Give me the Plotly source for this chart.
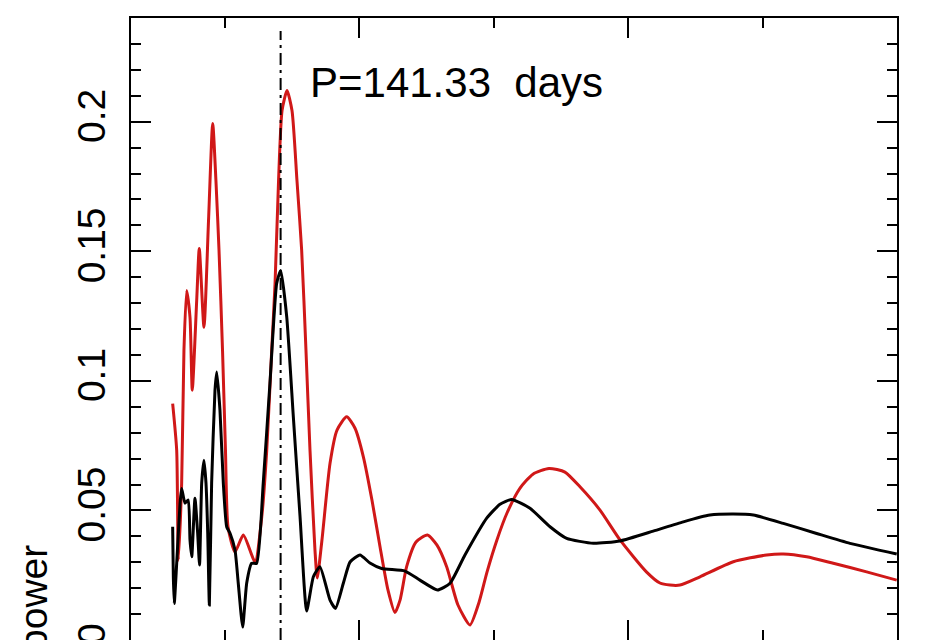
import plotly.graph_objects as go

# Period (days) and periodogram power
red_period = [61.0, 64.0, 65.2, 67.7, 69.4, 71.4, 73.9, 75.6, 78.9, 80.8, 84.3, 87.7, 90.8,
              93.2, 95.5, 98.1, 100.3, 102.2, 107.4, 113.6, 122.3, 127.3, 131.0, 134.7, 137.2,
              139.8, 142.4, 146.1, 149.8, 153.5, 157.0, 160.2, 163.2, 166.9, 168.6, 172.1,
              178.1, 183.3, 190.5, 196.7, 202.9, 209.3, 215.3, 221.2, 226.4, 230.2, 235.1,
              242.1, 250.6, 257.7, 264.9, 273.3, 282.2, 289.0, 294.9, 302.3, 309.8, 319.5,
              329.1, 341.0, 352.9, 364.1, 379.0, 393.9, 413.7, 423.6, 431.1, 438.5, 453.4,
              478.2, 503.0, 515.4, 532.8, 552.6, 577.4, 599.8]
red_power = [0.0912, 0.0732, 0.0308, 0.0605, 0.1118, 0.1349, 0.1245, 0.0964, 0.1311, 0.1511,
             0.1207, 0.1619, 0.1993, 0.1773, 0.1503, 0.1118, 0.0732, 0.0436, 0.0340, 0.0405,
             0.0302, 0.0475, 0.0732, 0.1118, 0.1376, 0.1773, 0.2043, 0.2120, 0.2043, 0.1773,
             0.1503, 0.1118, 0.0732, 0.0347, 0.0239, 0.0386, 0.0682, 0.0810, 0.0861, 0.0817,
             0.0707, 0.0540, 0.0360, 0.0193, 0.0106, 0.0154, 0.0283, 0.0378, 0.0405, 0.0366,
             0.0283, 0.0135, 0.0058, 0.0146, 0.0262, 0.0386, 0.0490, 0.0586, 0.0640, 0.0662,
             0.0648, 0.0591, 0.0501, 0.0386, 0.0262, 0.0220, 0.0212, 0.0212, 0.0244, 0.0302,
             0.0328, 0.0332, 0.0321, 0.0296, 0.0263, 0.0231]

black_period = [61.0, 61.5, 62.2, 64.0, 66.5, 67.7, 70.2, 72.6, 73.9, 75.2, 77.6, 79.6, 81.0,
                82.6, 84.3, 85.8, 87.1, 88.3, 90.0, 92.5, 93.8, 96.2, 98.7, 101.2, 103.7,
                107.4, 109.8, 113.1, 116.1, 119.8, 123.5, 128.4, 133.4, 138.4, 141.4, 145.9,
                150.8, 155.8, 160.7, 165.7, 170.6, 178.1, 182.2, 188.0, 193.0, 200.4, 207.8,
                216.5, 233.9, 245.0, 258.1, 267.4, 278.5, 294.7, 304.6, 313.3, 326.9, 341.8,
                354.2, 374.0, 393.9, 418.6, 441.0, 460.8, 478.2, 493.1, 515.4, 540.2, 565.0,
                599.8]
black_power = [0.0437, 0.0244, 0.0141, 0.0296, 0.0527, 0.0585, 0.0528, 0.0540, 0.0386, 0.0321,
               0.0547, 0.0412, 0.0289, 0.0605, 0.0694, 0.0605, 0.0412, 0.0135, 0.0605, 0.0964,
               0.1034, 0.0887, 0.0605, 0.0437, 0.0412, 0.0347, 0.0220, 0.0050, 0.0220, 0.0296,
               0.0296, 0.0605, 0.0991, 0.1376, 0.1426, 0.1246, 0.0861, 0.0475, 0.0112, 0.0244,
               0.0283, 0.0154, 0.0122, 0.0219, 0.0301, 0.0328, 0.0297, 0.0276, 0.0266, 0.0231,
               0.0193, 0.0219, 0.0328, 0.0470, 0.0524, 0.0542, 0.0508, 0.0437, 0.0392, 0.0373,
               0.0382, 0.0420, 0.0456, 0.0482, 0.0486, 0.0482, 0.0450, 0.0411, 0.0373, 0.0332]

peak_period = 141.33
peak_label = "P=141.33\u00a0 days"
label_power = 0.215
y_title = "power"

FONT = "Liberation Sans, Arial, sans-serif"

fig = go.Figure()
fig.add_trace(go.Scatter(x=red_period, y=red_power, mode="lines",
                         line=dict(color="#d01818", width=3, shape="spline", smoothing=0.6),
                         showlegend=False, hoverinfo="skip"))
fig.add_trace(go.Scatter(x=black_period, y=black_power, mode="lines",
                         line=dict(color="black", width=3, shape="spline", smoothing=0.5),
                         showlegend=False, hoverinfo="skip"))

fig.add_shape(type="line", xref="x", yref="y", x0=peak_period, x1=peak_period,
              y0=0, y1=0.235, line=dict(color="black", width=2, dash="12px,5px,3px,5px"))

fig.add_annotation(x=0.231, xref="paper", y=label_power, yref="y", text=peak_label,
                   showarrow=False, xanchor="left", yanchor="middle",
                   font=dict(family=FONT, size=42, color="black"))

fig.add_annotation(x=-0.128, xref="paper", y=0.0675, yref="paper", text=y_title,
                   textangle=-90, showarrow=False, xanchor="center", yanchor="middle",
                   font=dict(family=FONT, size=39, color="black"))

axis_common = dict(showline=True, linecolor="black", linewidth=2, mirror="allticks",
                   ticks="inside", tickcolor="black", tickwidth=2, showgrid=False,
                   zeroline=False, automargin=False)

fig.update_xaxes(range=[30, 600], dtick=200, tick0=0, ticklen=20, showticklabels=False,
                 minor=dict(dtick=100, tick0=0, ticklen=10, ticks="inside",
                            tickcolor="black", tickwidth=2, showgrid=False),
                 **axis_common)
fig.update_yaxes(range=[0, 0.24], dtick=0.05, tick0=0, ticklen=20, tickangle=-90,
                 tickfont=dict(family=FONT, size=39, color="black"),
                 ticklabeloverflow="allow", ticklabelstandoff=8,
                 minor=dict(dtick=0.01, tick0=0, ticklen=10, ticks="inside",
                            tickcolor="black", tickwidth=2, showgrid=False),
                 **axis_common)

fig.update_layout(width=939, height=640, template="none",
                  margin=dict(l=131, r=42, t=18, b=0, pad=0),
                  paper_bgcolor="white", plot_bgcolor="white")

fig.write_html("out.html")
